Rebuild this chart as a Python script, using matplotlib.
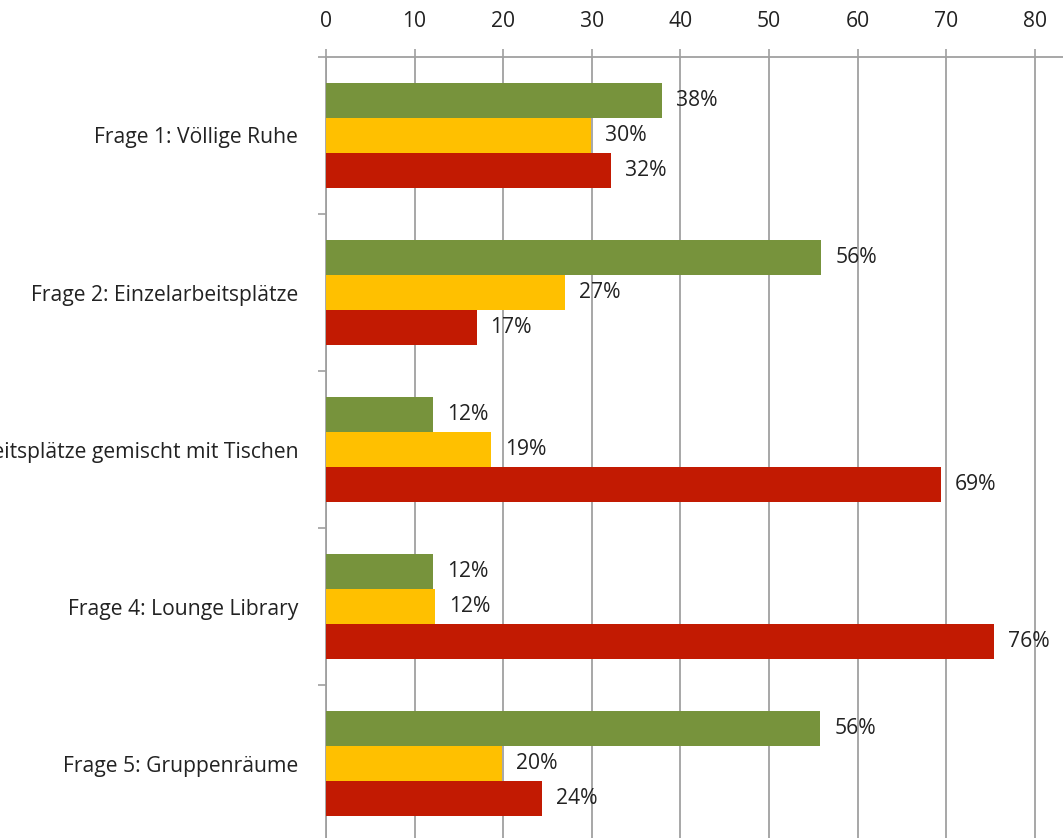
import matplotlib

matplotlib.use("Agg")
import matplotlib.pyplot as plt
import numpy as np

plt.rcParams["font.family"] = ["Open Sans", "DejaVu Sans"]

CATEGORIES = [
    "Frage 1: Völlige Ruhe",
    "Frage 2: Einzelarbeitsplätze",
    "Frage 3: Einzelarbeitsplätze gemischt mit Tischen",
    "Frage 4: Lounge Library",
    "Frage 5: Gruppenräume",
]
GREEN_VALUES = [37.9, 55.9, 12.1, 12.1, 55.8]
YELLOW_VALUES = [29.9, 27.0, 18.6, 12.3, 19.9]
RED_VALUES = [32.2, 17.0, 69.4, 75.4, 24.4]
GREEN_LABELS = ["38%", "56%", "12%", "12%", "56%"]
YELLOW_LABELS = ["30%", "27%", "19%", "12%", "20%"]
RED_LABELS = ["32%", "17%", "69%", "76%", "24%"]
X_TICKS = [0, 10, 20, 30, 40, 50, 60, 70, 80]

GREEN = "#77933C"
YELLOW = "#FFC000"
RED = "#C21A02"
GRID = "#A0A0A0"
TEXT = "#222222"
FS = 15.2

W, H = 1063, 838
fig = plt.figure(figsize=(W / 100, H / 100), dpi=100)
# axes: left spine at x=326 px, top at y=57 px, 10 units = 88.6 px
left = 326 / W
width = 9 * 88.6 / W
top = 1 - 57 / H
height = 5 * 157 / H
ax = fig.add_axes([left, top - height, width, height])

y = np.arange(len(CATEGORIES))
bar_h = 35 / 157
series = [
    (GREEN_VALUES, GREEN_LABELS, GREEN, -bar_h),
    (YELLOW_VALUES, YELLOW_LABELS, YELLOW, 0.0),
    (RED_VALUES, RED_LABELS, RED, bar_h),
]
for values, labels, color, offset in series:
    bars = ax.barh(y + offset, values, height=bar_h, color=color, zorder=3)
    for bar, label in zip(bars, labels):
        ax.annotate(
            label,
            xy=(bar.get_width(), bar.get_y() + bar.get_height() / 2),
            xytext=(10, 0),
            textcoords="offset points",
            ha="left",
            va="center",
            fontsize=FS,
            color=TEXT,
            zorder=4,
        )

ax.set_xlim(0, 90)
ax.set_ylim(len(CATEGORIES) - 0.5, -0.5)

ax.xaxis.tick_top()
ax.set_xticks(X_TICKS)
ax.set_xticklabels([str(t) for t in X_TICKS])
ax.tick_params(axis="x", direction="out", length=6, width=1.2, color=GRID, pad=12,
               labelsize=FS, labelcolor=TEXT)
ax.grid(axis="x", color=GRID, linewidth=1.3, zorder=0)

ax.set_yticks(np.arange(len(CATEGORIES) + 1) - 0.5)
ax.set_yticklabels([])
ax.tick_params(axis="y", which="major", direction="out", length=6, width=1.2, color=GRID)
ax.set_yticks(y, minor=True)
ax.set_yticklabels(CATEGORIES, minor=True)
ax.tick_params(axis="y", which="minor", length=0, pad=20, labelsize=FS, labelcolor=TEXT)

for side in ["right", "bottom"]:
    ax.spines[side].set_visible(False)
for side in ["top", "left"]:
    ax.spines[side].set_color(GRID)
    ax.spines[side].set_linewidth(1.3)

fig.savefig("out.png", dpi=100)
